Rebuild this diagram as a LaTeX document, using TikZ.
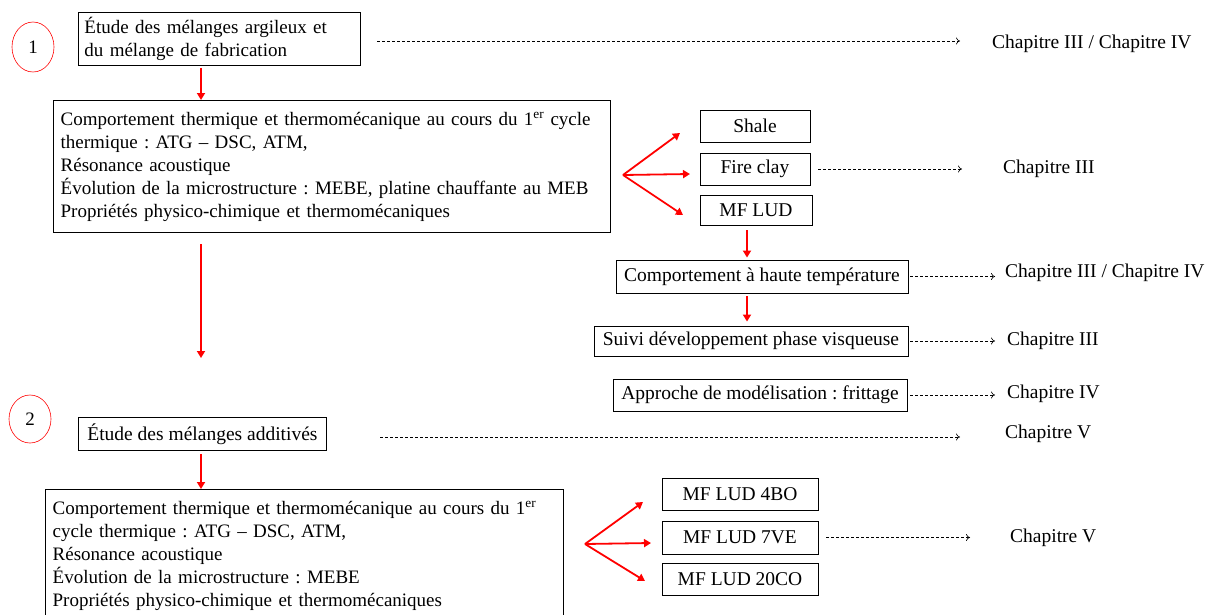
\documentclass[tikz,border=0pt]{standalone}
\usepackage{fontspec}
\setmainfont{Liberation Serif}
\usetikzlibrary{arrows.meta,shapes.geometric}
\frenchspacing
\tikzset{
  box/.style={draw=black, line width=0.9pt, inner ysep=0pt, inner xsep=6pt, align=center, font=\fontsize{19.5}{23}\selectfont},
  bigbox/.style={draw=black, line width=1.3pt, inner ysep=0pt, inner xsep=7pt, align=left, anchor=north west, font=\fontsize{19}{23}\selectfont},
  num/.style={draw=red, ellipse, line width=0.6pt, inner sep=0pt, font=\fontsize{19}{23}\selectfont},
  lbl/.style={anchor=west, inner sep=0pt, font=\fontsize{19.5}{23}\selectfont},
  redarr/.style={draw=red, line width=1.8pt, -{Triangle[length=7pt,width=8pt]}},
  dasharr/.style={draw=black, dashed, dash pattern=on 3pt off 2pt, line width=0.6pt, -{To[length=4pt,width=7pt]}},
}
\begin{document}
\begin{tikzpicture}[x=1pt,y=-1pt]
\useasboundingbox (0,0) rectangle (1208,614);
% numbers
\node[num, minimum width=42, minimum height=50] (n1) at (33,47) {1};
\node[num, minimum width=42, minimum height=48] (n2) at (30,419) {2};
% section 1
\node[box, font=\fontsize{19}{23}\selectfont, anchor=north west, minimum width=282, minimum height=53, text width=270, align=left] (b1) at (78,12) {Étude des mélanges argileux et\\du mélange de fabrication};
\node[lbl] (c1) at (992,44) {Chapitre III / Chapitre IV};
\node[bigbox, minimum width=557, minimum height=132, text width=543] (big1) at (53,100) {Comportement thermique et thermomécanique au cours du 1\textsuperscript{er} cycle\\thermique : ATG -- DSC, ATM,\\Résonance acoustique\\Évolution de la microstructure : MEBE, platine chauffante au MEB\\Propriétés physico-chimique et thermomécaniques};
\node[box, minimum width=110, minimum height=32] (shale) at (755,126) {Shale};
\node[box, minimum width=110, minimum height=32] (fire) at (755,169) {Fire clay};
\node[box, minimum width=112, minimum height=30] (mf) at (756,210) {MF LUD};
\node[lbl] (c2) at (1003,169) {Chapitre III};
\node[box, minimum width=292, minimum height=33] (haute) at (762,276.5) {Comportement à haute température};
\node[lbl] (c3) at (1005,273) {Chapitre III / Chapitre IV};
\node[box, minimum width=314, minimum height=30] (suivi) at (751,341) {Suivi développement phase visqueuse};
\node[lbl] (c4) at (1007,341) {Chapitre III};
\node[box, minimum width=294, minimum height=32] (appro) at (760,395) {Approche de modélisation : frittage};
\node[lbl] (c5) at (1007,394) {Chapitre IV};
% section 2
\node[box, anchor=north west, minimum width=248, minimum height=33] (b2) at (78,417) {Étude des mélanges additivés};
\node[lbl] (c6) at (1005,434) {Chapitre V};
\node[bigbox, minimum width=518, minimum height=132, text width=504] (big2) at (45,489) {Comportement thermique et thermomécanique au cours du 1\textsuperscript{er}\\cycle thermique : ATG -- DSC, ATM,\\Résonance acoustique\\Évolution de la microstructure : MEBE\\Propriétés physico-chimique et thermomécaniques};
\node[box, minimum width=156, minimum height=32] (m4) at (740,494) {MF LUD 4BO};
\node[box, minimum width=156, minimum height=33] (m7) at (740,537.5) {MF LUD 7VE};
\node[box, minimum width=156, minimum height=32] (m20) at (740,579) {MF LUD 20CO};
\node[lbl] (c7) at (1010,538) {Chapitre V};
% coordinates
\coordinate (f1) at (623,175);
\coordinate (f1a) at (680,133);
\coordinate (f1b) at (690,174);
\coordinate (f1c) at (683,215);
\coordinate (f2) at (585,544);
\coordinate (f2a) at (643,502);
\coordinate (f2b) at (651,543);
\coordinate (f2c) at (645,581);
\coordinate (ls) at (201,244);
\coordinate (le) at (201,358);
% red arrows
\draw[redarr] (b1.south -| ls) ++(0,2) -- (big1.north -| ls);
\draw[redarr] (ls) -- (le);
\draw[redarr] (b2.south -| ls) ++(0,3) -- (big2.north -| ls);
\draw[redarr] (f1) -- (f1a);
\draw[redarr] (f1) -- (f1b);
\draw[redarr] (f1) -- (f1c);
\draw[redarr] (f2) -- (f2a);
\draw[redarr] (f2) -- (f2b);
\draw[redarr] (f2) -- (f2c);
\draw[redarr] (mf.south -| 747,0) ++(0,5) -- ([yshift=2pt]haute.north -| 747,0);
\draw[redarr] (haute.south -| 747,0) ++(0,3) -- ([yshift=4pt]suivi.north -| 747,0);
% dashed arrows
\draw[dasharr] (377,41) -- ([xshift=-32pt]c1.west |- 377,41);
\draw[dasharr] ([xshift=8pt]fire.east) -- ([xshift=-41pt]c2.west |- fire.east);
\draw[dasharr] ([xshift=2pt]haute.east) -- ([xshift=-10pt]c3.west |- haute.east);
\draw[dasharr] ([xshift=2pt]suivi.east) -- ([xshift=-12pt]c4.west |- suivi.east);
\draw[dasharr] ([xshift=3pt]appro.east) -- ([xshift=-12pt]c5.west |- appro.east);
\draw[dasharr] (380,437) -- ([xshift=-45pt]c6.west |- 380,437);
\draw[dasharr] ([xshift=8pt]m7.east) -- ([xshift=-40pt]c7.west |- m7.east);
\end{tikzpicture}
\end{document}
